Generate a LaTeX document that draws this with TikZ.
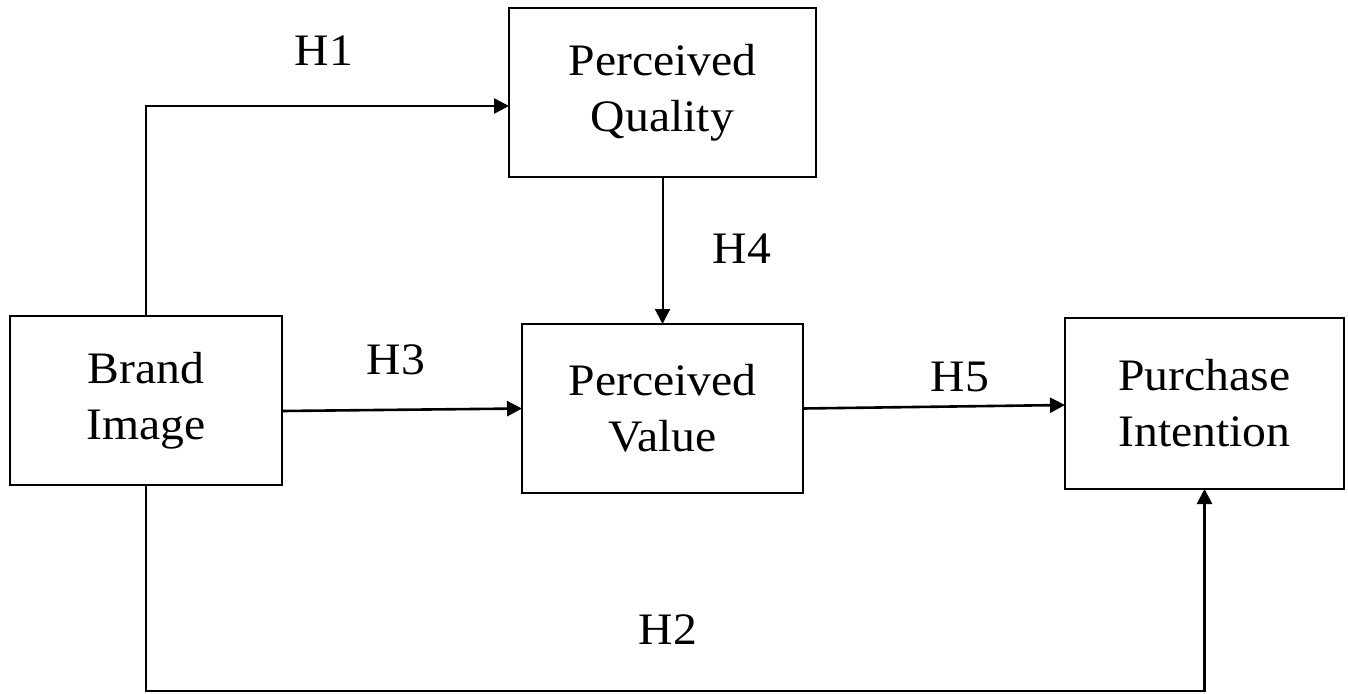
\documentclass[tikz,border=0pt]{standalone}
\usepackage{fontspec}
\setmainfont{Liberation Serif}[FakeStretch=1.06]
\usetikzlibrary{arrows.meta}
\begin{document}
\begin{tikzpicture}[x=1pt,y=-1pt,
  box/.style={draw=black,line width=2.6pt,rectangle,inner sep=0pt,outer sep=0pt,
    align=center,font=\fontsize{45}{56}\selectfont,minimum height=169pt},
  lbl/.style={inner sep=0pt,font=\fontsize{45}{56}\selectfont},
  arr/.style={line width=2.6pt,-{Triangle[length=15pt,width=15pt]}}
]
\useasboundingbox (0,0) rectangle (1348,693);
\node[box,minimum width=272pt] (bi) at (146,400.5) {Brand\\Image};
\node[box,minimum width=307pt] (pq) at (662.5,92.5) {Perceived\\Quality};
\node[box,minimum width=281pt] (pv) at (662.5,408.5) {Perceived\\Value};
\node[box,minimum width=279pt,minimum height=171pt] (pi) at (1204.5,403.5) {Purchase\\Intention};
\coordinate (h2c) at (600,691);
\node[lbl] (h1) at (324,51) {H1};
\node[lbl] (h4) at (742,249) {H4};
\node[lbl] (h3) at (396,360) {H3};
\node[lbl] (h5) at (960,377) {H5};
\node[lbl] (h2) at (668,630) {H2};
\draw[arr] (bi.north) |- ([yshift=-13.5pt]pq.west);
\draw[arr,line width=2pt] (pq.south) -- (pv.north);
\draw[arr] ([yshift=-10.5pt]bi.east) -- (pv.west);
\draw[arr] (pv.east) -- ([yshift=-1.5pt]pi.west);
\draw[arr] (bi.south) |- (h2c) -| (pi.south);
\end{tikzpicture}
\end{document}
